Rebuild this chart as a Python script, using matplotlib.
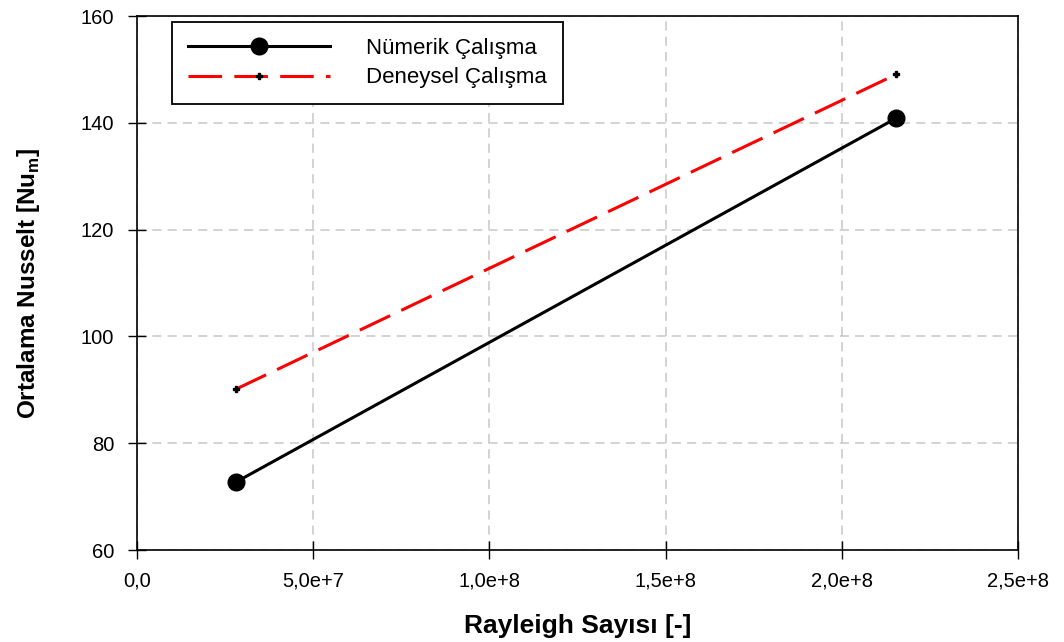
import matplotlib
matplotlib.use("Agg")
import matplotlib.pyplot as plt
from matplotlib.ticker import MultipleLocator

# --------------------------------------------------
# Data
# --------------------------------------------------
rayleigh = [2.8e7, 2.155e8]
nu_numerik = [72.7, 140.9]
nu_deneysel = [90.1, 149.1]

x_ticks = [0, 5e7, 1e8, 1.5e8, 2e8, 2.5e8]
x_tick_labels = ["0,0", "5,0e+7", "1,0e+8", "1,5e+8", "2,0e+8", "2,5e+8"]

plt.rcParams['font.family'] = ['Liberation Sans', 'DejaVu Sans']
plt.rcParams['mathtext.fontset'] = 'custom'
plt.rcParams['mathtext.rm'] = 'Liberation Sans:bold'

fig = plt.figure(figsize=(10.64, 6.42), dpi=100)
ax = fig.add_axes([0.1288, 0.1433, 0.828, 0.8317])

ax.plot(rayleigh, nu_numerik, color='black', lw=2.2, marker='o', ms=12,
        label='Nümerik Çalışma', zorder=3)
ax.plot(rayleigh, nu_deneysel, color='red', lw=2.2, dashes=(11, 4),
        marker='P', ms=4, mfc='black', mec='black',
        label='Deneysel Çalışma', zorder=3)

ax.set_xlim(0, 2.5e8)
ax.set_ylim(60, 160)
ax.set_xticks(x_ticks)
ax.set_xticklabels(x_tick_labels)
ax.yaxis.set_major_locator(MultipleLocator(20))

# light dashed grid
ax.grid(True, color='#c8c8c8', ls=(0, (6, 4)), lw=1.1)
ax.set_axisbelow(True)
for s in ax.spines.values():
    s.set_linewidth(1.2)
ax.tick_params(direction='inout', length=13, width=1.0, labelsize=14.5)
ax.tick_params(axis='x', pad=9)
ax.tick_params(axis='y', pad=10)

ax.set_xlabel('Rayleigh Sayısı [-]', fontsize=19, fontweight='bold', labelpad=17)
ax.set_ylabel('Ortalama Nusselt [Nu$_\\mathrm{m}$]', fontsize=17.5,
              fontweight='bold', labelpad=28)

leg = ax.legend(loc='upper left', bbox_to_anchor=(0.0397, 0.9888), borderaxespad=0,
                fontsize=16, handlelength=6.4, handletextpad=1.6, frameon=True,
                fancybox=False, edgecolor='black', framealpha=1,
                borderpad=0.72, labelspacing=0.38)
leg.get_frame().set_linewidth(1.3)

fig.savefig("out.png", dpi=100)
